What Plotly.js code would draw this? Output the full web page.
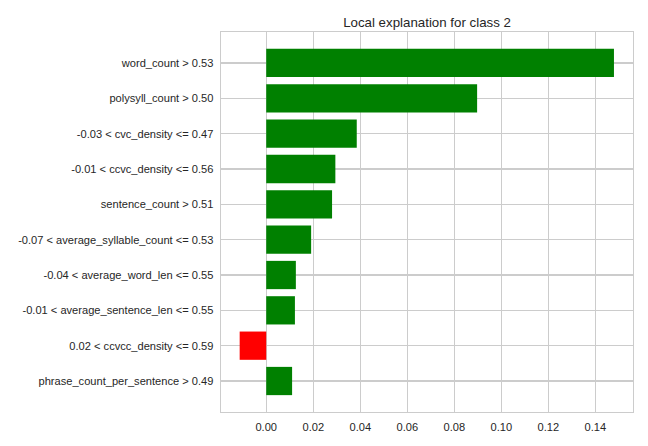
<!DOCTYPE html>
<html>
<head>
<meta charset="utf-8">
<script src="https://cdn.plot.ly/plotly-3.0.1.min.js"></script>
<style>html,body{margin:0;padding:0;background:#fff;}#chart{width:648px;height:446px;}</style>
</head>
<body>
<div id="chart"></div>
<script>
const features = [
  "word_count > 0.53",
  "polysyll_count > 0.50",
  "-0.03 < cvc_density <= 0.47",
  "-0.01 < ccvc_density <= 0.56",
  "sentence_count > 0.51",
  "-0.07 < average_syllable_count <= 0.53",
  "-0.04 < average_word_len <= 0.55",
  "-0.01 < average_sentence_len <= 0.55",
  "0.02 < ccvcc_density <= 0.59",
  "phrase_count_per_sentence > 0.49"
];
const weights = [0.1479, 0.0897, 0.0385, 0.0294, 0.0280, 0.0191, 0.0126, 0.0122, -0.0113, 0.0110];
const xTicks = [0, 0.02, 0.04, 0.06, 0.08, 0.10, 0.12, 0.14];
const xTickLabels = ["0.00", "0.02", "0.04", "0.06", "0.08", "0.10", "0.12", "0.14"];
const titleText = "Local explanation for class 2";

const colors = weights.map(w => w > 0 ? "#008000" : "#ff0000");

const trace = {
  type: "bar",
  orientation: "h",
  x: weights,
  y: features,
  width: 0.8,
  marker: { color: colors, line: { width: 0 } },
  hoverinfo: "x+y"
};

const n = features.length;
const layout = {
  width: 648,
  height: 446,
  margin: { l: 221, r: 15, t: 32, b: 34, pad: 0 },
  paper_bgcolor: "#ffffff",
  plot_bgcolor: "#ffffff",
  font: { family: "Liberation Sans, Arial, sans-serif", size: 11.1, color: "#262626" },
  title: {
    text: titleText,
    font: { size: 13.3, color: "#262626" },
    x: 0.659, xref: "container", xanchor: "center",
    y: 1, yref: "paper", yanchor: "bottom",
    pad: { b: 5 }
  },
  showlegend: false,
  bargap: 0.2,
  xaxis: {
    range: [-0.01924, 0.156],
    tickmode: "array",
    tickvals: xTicks,
    ticktext: xTickLabels,
    showgrid: true,
    gridcolor: "#cccccc",
    gridwidth: 1.1,
    zeroline: false,
    showline: true,
    linecolor: "#cccccc",
    linewidth: 1.4,
    mirror: true,
    ticks: "",
    ticklabelstandoff: 4
  },
  yaxis: {
    type: "category",
    range: [n - 1 + 0.877, -0.877],
    showgrid: true,
    gridcolor: "#cccccc",
    gridwidth: 1.1,
    zeroline: false,
    showline: true,
    linecolor: "#cccccc",
    linewidth: 1.4,
    mirror: true,
    ticks: "",
    ticklabelstandoff: 4
  }
};

Plotly.newPlot("chart", [trace], layout, { displayModeBar: false, staticPlot: true });
</script>
</body>
</html>
